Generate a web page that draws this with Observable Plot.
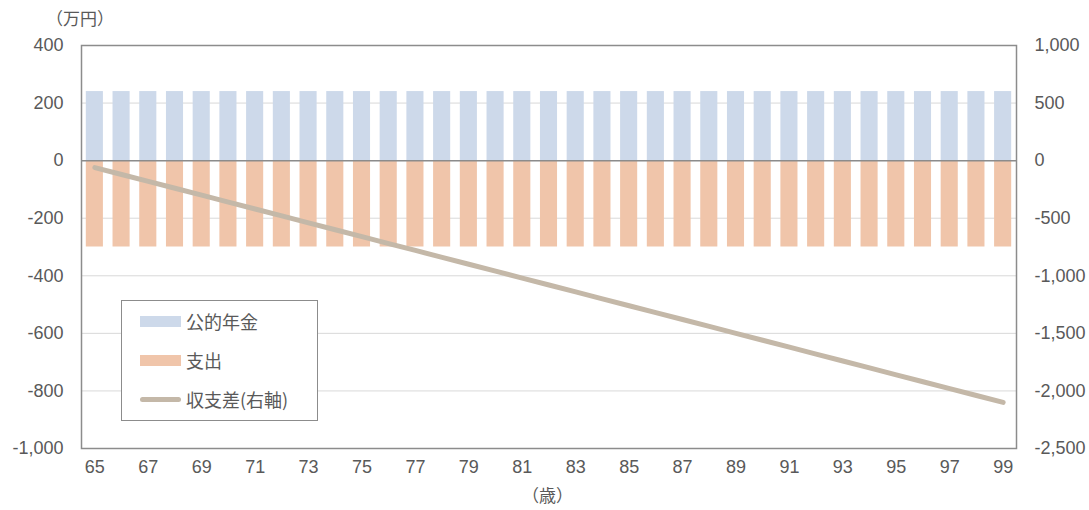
<!DOCTYPE html>
<html>
<head>
<meta charset="utf-8">
<script src="https://cdn.jsdelivr.net/npm/d3@7"></script>
<script src="https://cdn.jsdelivr.net/npm/@observablehq/plot@0.6"></script>
<style>
  html, body { margin: 0; padding: 0; background: #fff; }
  #chart { position: relative; width: 1089px; height: 510px; font-family: "Liberation Sans", Arial, "Noto Sans CJK JP", sans-serif; color: #595959; }
  .unit { position: absolute; font-size: 17px; color: #595959; font-family: "Noto Sans CJK JP", sans-serif; line-height: 1; }
  .legend { position: absolute; left: 121px; top: 300px; width: 197px; height: 121px; border: 1px solid #8c8c8c; box-sizing: border-box; background: #fff; }
  .legend .row { position: absolute; left: 18px; height: 22px; display: flex; align-items: center; font-size: 18px; font-family: "Noto Sans CJK JP", sans-serif; color: #595959; white-space: nowrap; }
  .legend .sw { width: 41px; height: 11px; margin-right: 5px; flex: none; }
  .legend .ln { width: 41px; height: 5px; border-radius: 3px; margin-right: 5px; flex: none; }
</style>
</head>
<body>
<div id="chart"></div>
<script>
// Ages (years) on the category axis
const ages = [65, 66, 67, 68, 69, 70, 71, 72, 73, 74, 75, 76, 77, 78, 79, 80, 81, 82,
              83, 84, 85, 86, 87, 88, 89, 90, 91, 92, 93, 94, 95, 96, 97, 98, 99];
// Annual public pension income (万円)
const pension = [240, 240, 240, 240, 240, 240, 240, 240, 240, 240, 240, 240, 240, 240, 240, 240, 240, 240,
                 240, 240, 240, 240, 240, 240, 240, 240, 240, 240, 240, 240, 240, 240, 240, 240, 240];
// Annual spending (万円)
const spending = [-300, -300, -300, -300, -300, -300, -300, -300, -300, -300, -300, -300, -300, -300, -300, -300, -300, -300,
                  -300, -300, -300, -300, -300, -300, -300, -300, -300, -300, -300, -300, -300, -300, -300, -300, -300];
// Cumulative balance (万円, right axis)
const balance = [-60, -120, -180, -240, -300, -360, -420, -480, -540, -600, -660, -720, -780, -840, -900, -960,
                 -1020, -1080, -1140, -1200, -1260, -1320, -1380, -1440, -1500, -1560, -1620, -1680, -1740, -1800,
                 -1860, -1920, -1980, -2040, -2100];
// Tick values
const leftTicks = [-1000, -800, -600, -400, -200, 0, 200, 400];
const rightTicks = [-2500, -2000, -1500, -1000, -500, 0, 500, 1000];
const ageTicks = [65, 67, 69, 71, 73, 75, 77, 79, 81, 83, 85, 87, 89, 91, 93, 95, 97, 99];

const names = {pension: "公的年金", spending: "支出", balance: "収支差(右軸)"};
const colors = {pension: "#cdd9ea", spending: "#f0c5aa", balance: "#c4b8a8"};

// right axis is 2.5× the left axis
const ratio = 2.5;

const pensionRows = ages.map((a, i) => ({age: a, value: pension[i]}));
const spendingRows = ages.map((a, i) => ({age: a, value: spending[i]}));
const balanceRows = ages.map((a, i) => ({age: a, value: balance[i], scaled: balance[i] / ratio}));

// thousands separator with a plain hyphen for negatives
const comma = d3.format(",");
const fmt = d => comma(d).replace("\u2212", "-");

const plot = Plot.plot({
  width: 1089,
  height: 510,
  marginLeft: 81,
  marginRight: 73,
  marginTop: 45,
  marginBottom: 62,
  style: {fontSize: "18px", fontFamily: "'Liberation Sans', Arial, sans-serif", color: "#595959", background: "#fff"},
  x: {type: "band", domain: ages, paddingInner: 0.36, paddingOuter: 0.18, round: false},
  y: {domain: [-1000, 400]},
  marks: [
    Plot.gridY(leftTicks, {stroke: "#d9d9d9", strokeOpacity: 1, strokeWidth: 1}),
    Plot.barY(pensionRows, {x: "age", y: "value", fill: colors.pension}),
    Plot.barY(spendingRows, {x: "age", y: "value", fill: colors.spending}),
    Plot.ruleY([0], {stroke: "#8c8c8c", strokeWidth: 1.5}),
    Plot.line(balanceRows, {x: "age", y: "scaled", stroke: colors.balance, strokeWidth: 5, strokeLinecap: "round"}),
    Plot.frame({stroke: "#8c8c8c", strokeWidth: 1.5}),
    Plot.axisY(leftTicks, {anchor: "left", tickSize: 0, tickPadding: 18, tickFormat: fmt, label: null, fontSize: 18}),
    Plot.axisY(rightTicks.map(d => d / ratio), {anchor: "right", tickSize: 0, tickPadding: 18, tickFormat: d => fmt(Math.round(d * ratio)), label: null, fontSize: 18}),
    Plot.axisX(ageTicks, {anchor: "bottom", tickSize: 0, tickPadding: 12, label: null, fontSize: 18})
  ]
});

const chart = document.getElementById("chart");
chart.appendChild(plot);
plot.style.position = "absolute";
plot.style.left = "0";
plot.style.top = "0";

// Unit labels
const yUnit = document.createElement("div");
yUnit.className = "unit";
yUnit.style.left = "46px";
yUnit.style.top = "9px";
yUnit.textContent = "（万円）";
chart.appendChild(yUnit);

const xUnit = document.createElement("div");
xUnit.className = "unit";
xUnit.style.left = "522px";
xUnit.style.top = "486px";
xUnit.textContent = "（歳）";
chart.appendChild(xUnit);

// Legend
const legend = document.createElement("div");
legend.className = "legend";
const items = [
  {key: "pension", kind: "sw", top: 9},
  {key: "spending", kind: "sw", top: 48},
  {key: "balance", kind: "ln", top: 87}
];
for (const it of items) {
  const row = document.createElement("div");
  row.className = "row";
  row.style.top = it.top + "px";
  const sw = document.createElement("span");
  sw.className = it.kind;
  sw.style.background = colors[it.key];
  const label = document.createElement("span");
  label.textContent = names[it.key];
  row.appendChild(sw);
  row.appendChild(label);
  legend.appendChild(row);
}
chart.appendChild(legend);
</script>
</body>
</html>
